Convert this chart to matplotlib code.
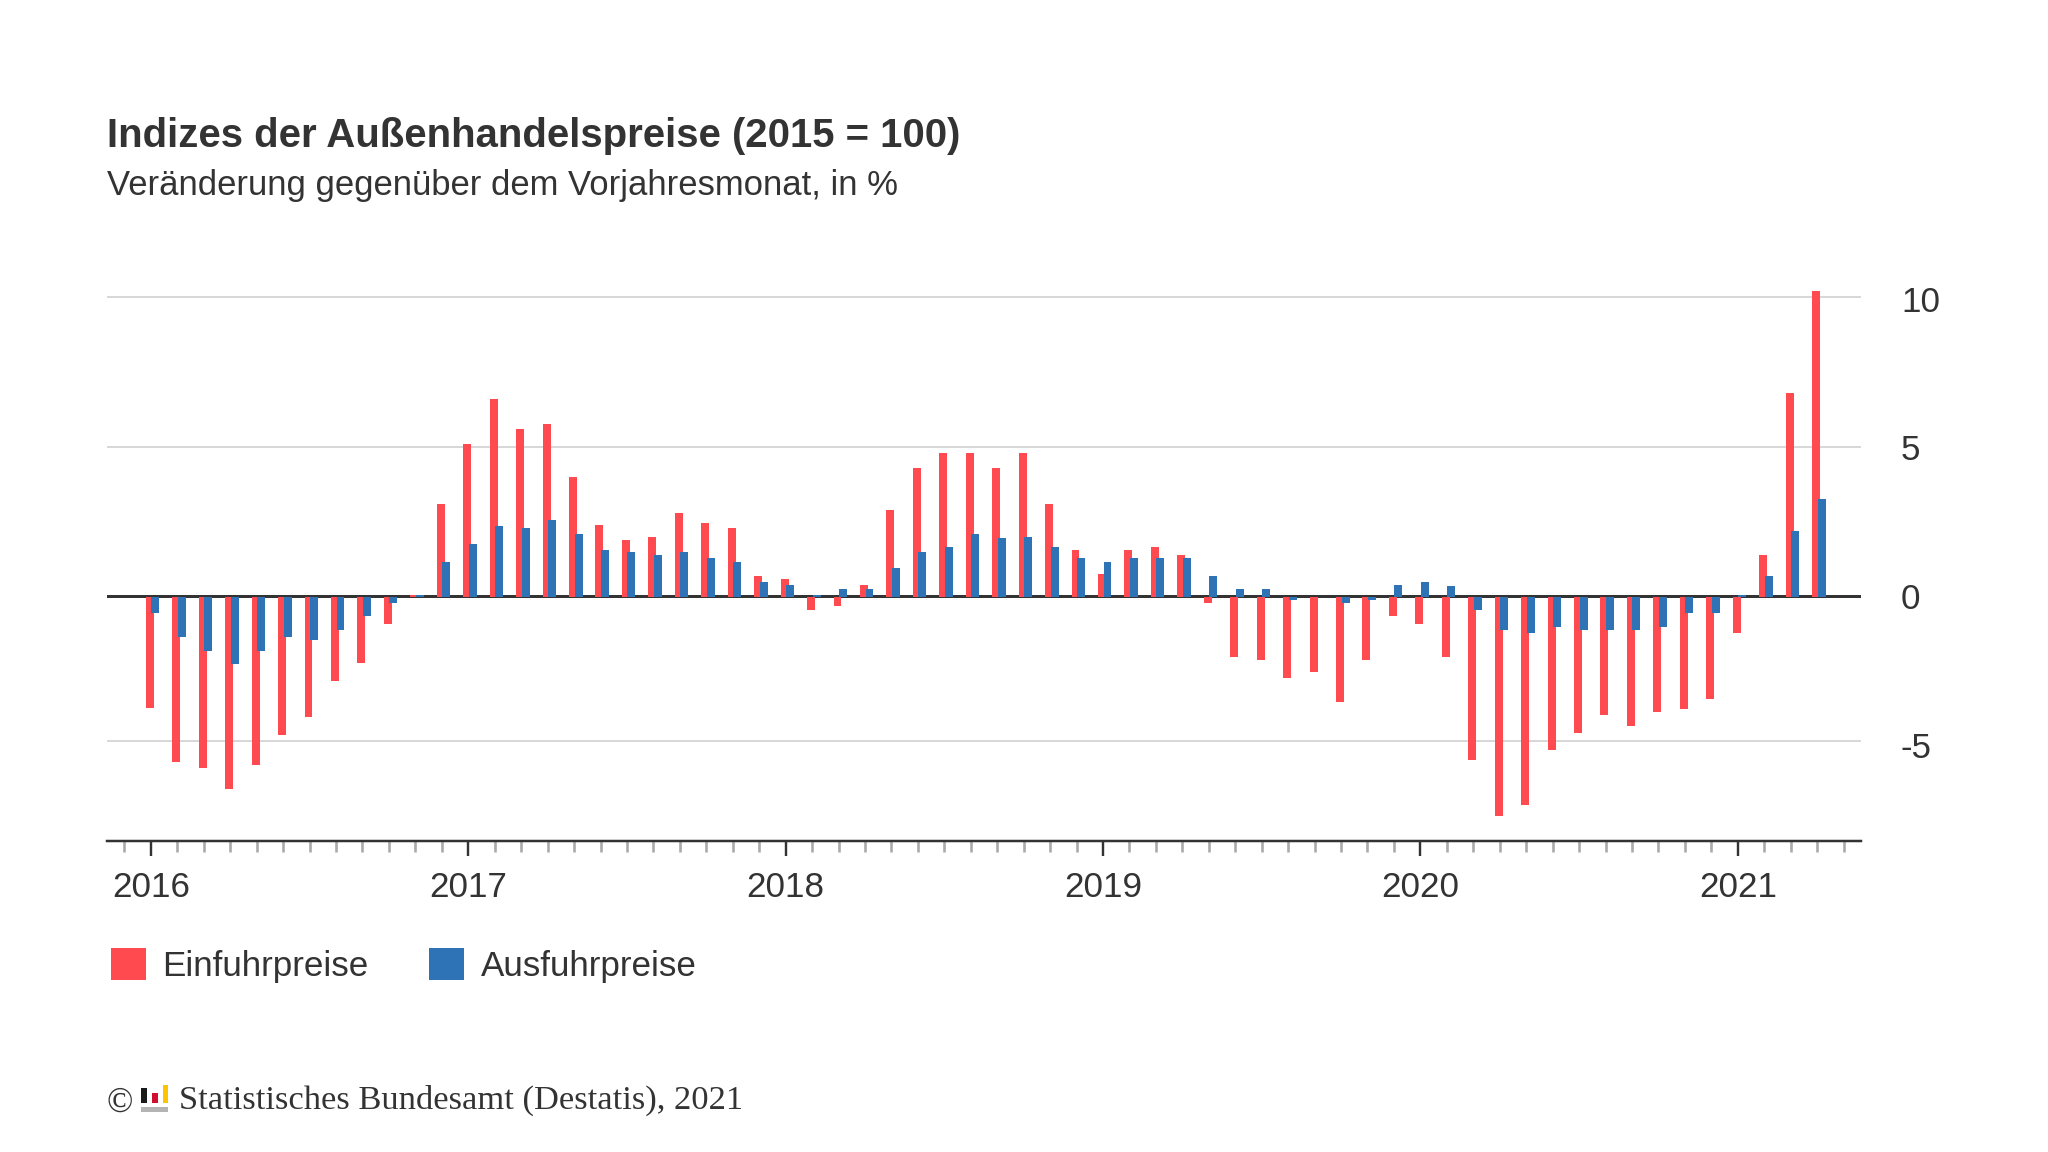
import matplotlib
matplotlib.use("Agg")
import matplotlib.pyplot as plt
import numpy as np
from matplotlib.patches import Rectangle
from matplotlib.transforms import IdentityTransform, blended_transform_factory

# ===== DATA =====
# monthly, Jan 2016 .. Apr 2021
einfuhr = [-3.7, -5.5, -5.7, -6.4, -5.6, -4.6, -4.0, -2.8, -2.2, -0.9, 0.05, 3.1,
           5.1, 6.6, 5.6, 5.75, 4.0, 2.4, 1.9, 2.0, 2.8, 2.45, 2.3, 0.7,
           0.6, -0.45, -0.3, 0.4, 2.9, 4.3, 4.8, 4.8, 4.3, 4.8, 3.1, 1.55,
           0.75, 1.55, 1.65, 1.4, -0.2, -2.0, -2.1, -2.7, -2.5, -3.5, -2.1, -0.65,
           -0.9, -2.0, -5.45, -7.3, -6.95, -5.1, -4.55, -3.95, -4.3, -3.85, -3.75, -3.4,
           -1.2, 1.4, 6.8, 10.2]
ausfuhr = [-0.55, -1.35, -1.8, -2.25, -1.8, -1.35, -1.45, -1.1, -0.65, -0.2, 0.05, 1.15,
           1.75, 2.35, 2.3, 2.55, 2.1, 1.55, 1.5, 1.4, 1.5, 1.3, 1.15, 0.5,
           0.4, 0.05, 0.25, 0.25, 0.95, 1.5, 1.65, 2.1, 1.95, 2.0, 1.65, 1.3,
           1.15, 1.3, 1.3, 1.3, 0.7, 0.25, 0.25, -0.1, 0.0, -0.2, -0.1, 0.4,
           0.5, 0.35, -0.45, -1.1, -1.2, -1.0, -1.1, -1.1, -1.1, -1.0, -0.55, -0.55,
           0.05, 0.7, 2.2, 3.25]
years = ["2016", "2017", "2018", "2019", "2020", "2021"]
grid_values = [-4.83, 5, 10]   # the -5 line sits a little high in the original
value_labels = ["-5", "0", "5", "10"]
label_values = [-4.94, 0.02, 4.97, 9.92]

RED = "#FF4A50"
BLUE = "#2E73B5"
DARK = "#333333"
W, H = 2048, 1152
PX = 0.72  # linewidth points per pixel at dpi 100

plt.rcParams["font.family"] = ["Liberation Sans", "DejaVu Sans"]
fig = plt.figure(figsize=(W / 100, H / 100), dpi=100)

# ===== AXES =====
ax = fig.add_axes([107 / W, 1 - 841.3 / H, (1861 - 107) / W, (841.3 - 280) / H])
ax.set_xlim(-1.66, 64.66)
ax.set_ylim(-8.16, 10.55)
for s in ["top", "left", "right"]:
    ax.spines[s].set_visible(False)
ax.spines["bottom"].set_color(DARK)
ax.spines["bottom"].set_linewidth(2.5 * PX)

# ===== BARS =====
months = np.arange(len(einfuhr))
ax.bar(months - 0.04, einfuhr, width=0.3, color=RED, label="Einfuhrpreise", zorder=3)
ax.bar(months + 0.17, ausfuhr, width=0.3, color=BLUE, label="Ausfuhrpreise", zorder=4)

for v in grid_values:
    ax.axhline(v, color="#cfcfcf", lw=1.6 * PX, zorder=1)
ax.axhline(0.03, color=DARK, lw=3 * PX, zorder=2)

# ===== TICKS =====
ax.set_xticks(np.arange(len(years)) * 12)
ax.set_xticklabels(years, fontsize=25.2, color=DARK)
ax.set_xticks(np.arange(-1, 65), minor=True)
ax.tick_params(axis="x", which="major", length=15 * PX, width=2.4 * PX, color=DARK, pad=10.5)
ax.tick_params(axis="x", which="minor", length=11 * PX, width=2.6 * PX, color="#aaaaaa")
ax.set_yticks([])
label_trans = blended_transform_factory(IdentityTransform(), ax.transData)
for v, t in zip(label_values, value_labels):
    ax.text(1901, v, t, transform=label_trans, fontsize=25.2, color=DARK,
            ha="left", va="center_baseline", clip_on=False)

# ===== TITLES =====
fig.text(107 / W, 1 - 147 / H, "Indizes der Außenhandelspreise (2015 = 100)",
         fontsize=28.9, fontweight="bold", color=DARK, ha="left", va="baseline")
fig.text(107 / W, 1 - 195 / H, "Veränderung gegenüber dem Vorjahresmonat, in %",
         fontsize=24.9, color=DARK, ha="left", va="baseline")

# ===== LEGEND =====
fig.legend(loc="lower left", bbox_to_anchor=(110.7 / W, 1 - 983 / H), ncol=2, frameon=False,
           fontsize=25.2, borderpad=0, borderaxespad=0, handlelength=1, handleheight=1.03,
           handletextpad=0.48, columnspacing=1.72, labelcolor=DARK)

# ===== FOOTER =====
fig.text(107 / W, 1 - 1112 / H, "©", family=["Liberation Serif"], fontsize=25, color=DARK)
fig.text(179 / W, 1 - 1109 / H, "Statistisches Bundesamt (Destatis), 2021",
         family=["Liberation Serif"], fontsize=24.8, color=DARK)
# small destatis logo
for x0, y0, x1, y1, c in [(141, 1088, 147, 1103, "#1a1a1a"), (152, 1093, 158, 1103, "#d0102e"),
                          (163, 1085, 168, 1103, "#ffc400"), (141, 1107, 168, 1112, "#b4b4b4")]:
    fig.add_artist(Rectangle((x0 / W, 1 - y1 / H), (x1 - x0) / W, (y1 - y0) / H,
                             transform=fig.transFigure, color=c, lw=0))

fig.savefig("out.png", dpi=100, facecolor="white")
